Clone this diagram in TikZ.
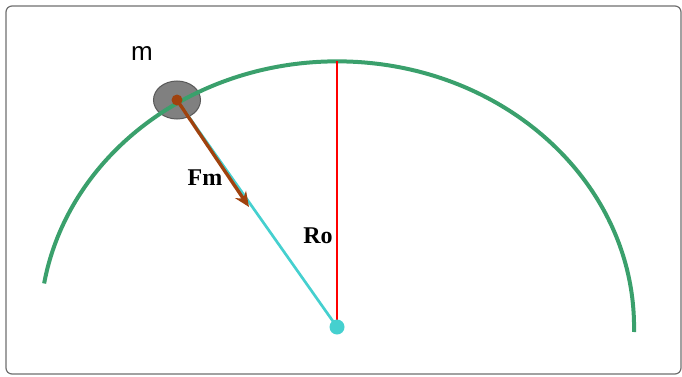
\documentclass[tikz,border=0pt]{standalone}
\usepackage{fontspec}
\setmainfont{Liberation Serif}
\setsansfont{Liberation Sans}
\usetikzlibrary{arrows.meta,shapes.geometric}
\definecolor{arcgreen}{HTML}{3AA06C}
\definecolor{radcyan}{HTML}{45D0CF}
\definecolor{forcebrown}{HTML}{A0420E}
\definecolor{framegray}{HTML}{6E6E6E}

\begin{document}
\begin{tikzpicture}[x=1pt,y=1pt,
    lbl/.style={font=\fontsize{24}{28}\selectfont\bfseries}]

    \useasboundingbox (0,0) rectangle (682,376);

        % Frame
        \draw[framegray, line width=1.2pt, rounded corners=6pt] (6,2) rectangle (681,370);

        % Mass
        \node[ellipse, draw=black!65, fill=black!50, line width=1pt, minimum width=47, minimum height=38, inner sep=0] (mass) at (177,276) {};
        \node[font=\fontsize{26}{30}\selectfont\sffamily] (mlabel) at (142,322) {m};

        % Orbit
        \coordinate (O) at (337,49);
        \coordinate (top) at (337,315);
        \draw[arcgreen, line width=4pt] (634,44) arc[start angle=-1, end angle=170.5, x radius=297, y radius=266];

        % Radius lines
        \draw[radcyan, line width=2.7pt] (mass.center) -- (O);
        \draw[red, line width=2.4pt] (top) -- (O);

        % Force arrow
        \coordinate (tip) at (249,169);
        \draw[forcebrown, line width=3.4pt, -{Stealth[length=15pt, width=13pt]}] (mass.center) -- (tip);
        \node[lbl] (fm) at (205,198) {Fm};
        \node[lbl] (ro) at (318,140) {Ro};

        % Dots
        \fill[forcebrown] (mass.center) circle (5.5);
        \node[circle, fill=radcyan, minimum size=15, inner sep=0] (Odot) at (O) {};

\end{tikzpicture}
\end{document}
